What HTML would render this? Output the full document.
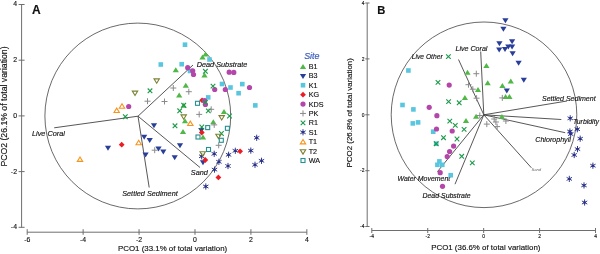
<!DOCTYPE html>
<html><head><meta charset="utf-8"><style>
html,body{margin:0;padding:0;background:#fff;}
svg{display:block;will-change:transform;}
</style></head><body>
<svg width="600" height="254" viewBox="0 0 600 254">
<path d="M21.6 4.3V227.5M18.6 4.5H24.6M18.6 60.2H24.6M18.6 115.9H24.6M18.6 171.6H24.6M18.6 227.3H24.6" stroke="#6e6e6e" stroke-width="1" fill="none"/>
<path d="M27.2 232.2H306.8M27.20 229.2V234.8M83.13 229.2V234.8M139.06 229.2V234.8M194.99 229.2V234.8M250.92 229.2V234.8M306.85 229.2V234.8" stroke="#6e6e6e" stroke-width="1" fill="none"/>
<text x="27.20" y="241.6" font-family="Liberation Sans, sans-serif" font-size="6.9" text-anchor="middle" fill="#111" stroke="#111" stroke-width="0.14">-6</text>
<text x="83.13" y="241.6" font-family="Liberation Sans, sans-serif" font-size="6.9" text-anchor="middle" fill="#111" stroke="#111" stroke-width="0.14">-4</text>
<text x="139.06" y="241.6" font-family="Liberation Sans, sans-serif" font-size="6.9" text-anchor="middle" fill="#111" stroke="#111" stroke-width="0.14">-2</text>
<text x="194.99" y="241.6" font-family="Liberation Sans, sans-serif" font-size="6.9" text-anchor="middle" fill="#111" stroke="#111" stroke-width="0.14">0</text>
<text x="250.92" y="241.6" font-family="Liberation Sans, sans-serif" font-size="6.9" text-anchor="middle" fill="#111" stroke="#111" stroke-width="0.14">2</text>
<text x="306.85" y="241.6" font-family="Liberation Sans, sans-serif" font-size="6.9" text-anchor="middle" fill="#111" stroke="#111" stroke-width="0.14">4</text>
<text x="17" y="6.20" font-family="Liberation Sans, sans-serif" font-size="6.9" text-anchor="end" fill="#111" stroke="#111" stroke-width="0.14">4</text>
<text x="17" y="62.00" font-family="Liberation Sans, sans-serif" font-size="6.9" text-anchor="end" fill="#111" stroke="#111" stroke-width="0.14">2</text>
<text x="17" y="117.80" font-family="Liberation Sans, sans-serif" font-size="6.9" text-anchor="end" fill="#111" stroke="#111" stroke-width="0.14">0</text>
<text x="17" y="173.60" font-family="Liberation Sans, sans-serif" font-size="6.9" text-anchor="end" fill="#111" stroke="#111" stroke-width="0.14">-2</text>
<text x="17" y="229.40" font-family="Liberation Sans, sans-serif" font-size="6.9" text-anchor="end" fill="#111" stroke="#111" stroke-width="0.14">-4</text>
<text x="118" y="250.8" font-family="Liberation Sans, sans-serif" font-size="7.9" fill="#111" stroke="#111" stroke-width="0.14">PCO1 (33.1% of total variation)</text>
<text transform="translate(7.2,166.6) rotate(-90) scale(1.06,1)" font-family="Liberation Sans, sans-serif" font-size="8.2" fill="#111" stroke="#111" stroke-width="0.14">PCO2 (26.1% of total variation)</text>
<text x="32" y="13.6" font-family="Liberation Sans, sans-serif" font-size="12" font-weight="bold" fill="#111" stroke="#111" stroke-width="0.14">A</text>
<circle cx="137.8" cy="116" r="92.9" fill="none" stroke="#444" stroke-width="0.8"/>
<line x1="138" y1="116.2" x2="193" y2="65" stroke="#444" stroke-width="0.9"/>
<line x1="138" y1="116.2" x2="54.2" y2="127.8" stroke="#444" stroke-width="0.9"/>
<line x1="138" y1="116.2" x2="149.2" y2="187.5" stroke="#444" stroke-width="0.9"/>
<line x1="138" y1="116.2" x2="200" y2="167.5" stroke="#444" stroke-width="0.9"/>
<text x="196.7" y="67.3" font-family="Liberation Sans, sans-serif" font-size="7.3" font-style="italic" fill="#111" stroke="#111" stroke-width="0.14">Dead Substrate</text>
<text x="32" y="135.8" font-family="Liberation Sans, sans-serif" font-size="7.3" font-style="italic" fill="#111" stroke="#111" stroke-width="0.14">Live Coral</text>
<text x="122.2" y="195.8" font-family="Liberation Sans, sans-serif" font-size="7.3" font-style="italic" fill="#111" stroke="#111" stroke-width="0.14">Settled Sediment</text>
<text x="190.8" y="175" font-family="Liberation Sans, sans-serif" font-size="7.3" font-style="italic" fill="#111" stroke="#111" stroke-width="0.14">Sand</text>
<polygon points="202.40,56.50 208.60,56.50 205.50,51.50" fill="#50b846"/>
<polygon points="199.40,59.50 205.60,59.50 202.50,54.50" fill="#50b846"/>
<polygon points="172.70,72.20 178.90,72.20 175.80,67.20" fill="#50b846"/>
<polygon points="182.70,87.80 188.90,87.80 185.80,82.80" fill="#50b846"/>
<polygon points="176.10,97.50 182.30,97.50 179.20,92.50" fill="#50b846"/>
<polygon points="201.40,77.50 207.60,77.50 204.50,72.50" fill="#50b846"/>
<polygon points="180.60,107.80 186.80,107.80 183.70,102.80" fill="#50b846"/>
<polygon points="220.90,113.90 227.10,113.90 224.00,108.90" fill="#50b846"/>
<polygon points="181.90,123.30 188.10,123.30 185.00,118.30" fill="#50b846"/>
<polygon points="179.90,134.00 186.10,134.00 183.00,129.00" fill="#50b846"/>
<polygon points="210.20,124.20 216.40,124.20 213.30,119.20" fill="#50b846"/>
<polygon points="199.90,139.50 206.10,139.50 203.00,134.50" fill="#50b846"/>
<polygon points="150.90,123.30 157.10,123.30 154.00,128.30" fill="#283e9a"/>
<polygon points="141.10,134.80 147.30,134.80 144.20,139.80" fill="#283e9a"/>
<polygon points="146.60,138.00 152.80,138.00 149.70,143.00" fill="#283e9a"/>
<polygon points="142.50,152.50 148.70,152.50 145.60,157.50" fill="#283e9a"/>
<polygon points="155.40,146.60 161.60,146.60 158.50,151.60" fill="#283e9a"/>
<polygon points="160.20,149.60 166.40,149.60 163.30,154.60" fill="#283e9a"/>
<polygon points="176.90,143.30 183.10,143.30 180.00,148.30" fill="#283e9a"/>
<polygon points="171.60,155.30 177.80,155.30 174.70,160.30" fill="#283e9a"/>
<polygon points="198.20,128.10 204.40,128.10 201.30,133.10" fill="#283e9a"/>
<polygon points="199.90,160.30 206.10,160.30 203.00,165.30" fill="#283e9a"/>
<polygon points="104.90,145.80 111.10,145.80 108.00,150.80" fill="#283e9a"/>
<rect x="182.70" y="42.40" width="4.6" height="4.6" fill="#58c6de"/>
<rect x="207.20" y="57.20" width="4.6" height="4.6" fill="#58c6de"/>
<rect x="158.50" y="62.20" width="4.6" height="4.6" fill="#58c6de"/>
<rect x="179.40" y="61.90" width="4.6" height="4.6" fill="#58c6de"/>
<rect x="187.70" y="68.70" width="4.6" height="4.6" fill="#58c6de"/>
<rect x="219.70" y="81.70" width="4.6" height="4.6" fill="#58c6de"/>
<rect x="228.20" y="85.20" width="4.6" height="4.6" fill="#58c6de"/>
<rect x="240.00" y="81.80" width="4.6" height="4.6" fill="#58c6de"/>
<rect x="236.30" y="90.90" width="4.6" height="4.6" fill="#58c6de"/>
<rect x="253.00" y="103.10" width="4.6" height="4.6" fill="#58c6de"/>
<rect x="205.90" y="95.10" width="4.6" height="4.6" fill="#58c6de"/>
<polygon points="202.10,97.40 205.00,100.30 202.10,103.20 199.20,100.30" fill="#ec1c24"/>
<polygon points="201.80,129.60 204.70,132.50 201.80,135.40 198.90,132.50" fill="#ec1c24"/>
<polygon points="205.30,157.10 208.20,160.00 205.30,162.90 202.40,160.00" fill="#ec1c24"/>
<polygon points="240.10,148.40 243.00,151.30 240.10,154.20 237.20,151.30" fill="#ec1c24"/>
<polygon points="218.40,174.50 221.30,177.40 218.40,180.30 215.50,177.40" fill="#ec1c24"/>
<polygon points="121.70,141.80 124.60,144.70 121.70,147.60 118.80,144.70" fill="#ec1c24"/>
<circle cx="187.70" cy="67.70" r="2.6" fill="#b446aa"/>
<circle cx="192.70" cy="70.80" r="2.6" fill="#b446aa"/>
<circle cx="193.50" cy="74.50" r="2.6" fill="#b446aa"/>
<circle cx="229.20" cy="72.20" r="2.6" fill="#b446aa"/>
<circle cx="233.80" cy="72.40" r="2.6" fill="#b446aa"/>
<circle cx="249.50" cy="87.50" r="2.6" fill="#b446aa"/>
<circle cx="214.70" cy="89.50" r="2.6" fill="#b446aa"/>
<circle cx="225.30" cy="89.50" r="2.6" fill="#b446aa"/>
<circle cx="204.60" cy="100.70" r="2.6" fill="#b446aa"/>
<circle cx="205.40" cy="104.50" r="2.6" fill="#b446aa"/>
<circle cx="128.70" cy="106.50" r="2.6" fill="#b446aa"/>
<path d="M170.30 88.00H176.30M173.30 85.00V91.00" stroke="#8a8a8a" stroke-width="1" fill="none"/>
<path d="M185.80 91.70H191.80M188.80 88.70V94.70" stroke="#8a8a8a" stroke-width="1" fill="none"/>
<path d="M144.50 101.20H150.50M147.50 98.20V104.20" stroke="#8a8a8a" stroke-width="1" fill="none"/>
<path d="M161.50 101.50H167.50M164.50 98.50V104.50" stroke="#8a8a8a" stroke-width="1" fill="none"/>
<path d="M208.20 109.30H214.20M211.20 106.30V112.30" stroke="#8a8a8a" stroke-width="1" fill="none"/>
<path d="M196.20 114.40H202.20M199.20 111.40V117.40" stroke="#8a8a8a" stroke-width="1" fill="none"/>
<path d="M211.20 124.90H217.20M214.20 121.90V127.90" stroke="#8a8a8a" stroke-width="1" fill="none"/>
<path d="M215.70 145.30H221.70M218.70 142.30V148.30" stroke="#8a8a8a" stroke-width="1" fill="none"/>
<path d="M151.70 150.20H157.70M154.70 147.20V153.20" stroke="#8a8a8a" stroke-width="1" fill="none"/>
<path d="M203.10 69.00L207.70 73.60M203.10 73.60L207.70 69.00" stroke="#1a9a48" stroke-width="1.1" fill="none"/>
<path d="M210.70 83.80L215.30 88.40M210.70 88.40L215.30 83.80" stroke="#1a9a48" stroke-width="1.1" fill="none"/>
<path d="M147.70 88.50L152.30 93.10M147.70 93.10L152.30 88.50" stroke="#1a9a48" stroke-width="1.1" fill="none"/>
<path d="M203.10 100.10L207.70 104.70M203.10 104.70L207.70 100.10" stroke="#1a9a48" stroke-width="1.1" fill="none"/>
<path d="M206.00 108.60L210.60 113.20M206.00 113.20L210.60 108.60" stroke="#1a9a48" stroke-width="1.1" fill="none"/>
<path d="M181.40 103.00L186.00 107.60M181.40 107.60L186.00 103.00" stroke="#1a9a48" stroke-width="1.1" fill="none"/>
<path d="M177.40 108.50L182.00 113.10M177.40 113.10L182.00 108.50" stroke="#1a9a48" stroke-width="1.1" fill="none"/>
<path d="M227.20 113.70L231.80 118.30M227.20 118.30L231.80 113.70" stroke="#1a9a48" stroke-width="1.1" fill="none"/>
<path d="M123.00 114.40L127.60 119.00M123.00 119.00L127.60 114.40" stroke="#1a9a48" stroke-width="1.1" fill="none"/>
<path d="M172.70 123.50L177.30 128.10M172.70 128.10L177.30 123.50" stroke="#1a9a48" stroke-width="1.1" fill="none"/>
<path d="M199.50 124.70L204.10 129.30M199.50 129.30L204.10 124.70" stroke="#1a9a48" stroke-width="1.1" fill="none"/>
<path d="M219.10 131.20L223.70 135.80M219.10 135.80L223.70 131.20" stroke="#1a9a48" stroke-width="1.1" fill="none"/>
<path d="M201.70 153.20L201.70 159.40M199.02 154.75L204.38 157.85M199.02 157.85L204.38 154.75" stroke="#272f86" stroke-width="0.95" fill="none"/><circle cx="201.70" cy="156.30" r="1.2" fill="#272f86"/>
<path d="M214.20 150.70L214.20 156.90M211.52 152.25L216.88 155.35M211.52 155.35L216.88 152.25" stroke="#272f86" stroke-width="0.95" fill="none"/><circle cx="214.20" cy="153.80" r="1.2" fill="#272f86"/>
<path d="M228.60 151.70L228.60 157.90M225.92 153.25L231.28 156.35M225.92 156.35L231.28 153.25" stroke="#272f86" stroke-width="0.95" fill="none"/><circle cx="228.60" cy="154.80" r="1.2" fill="#272f86"/>
<path d="M235.30 147.70L235.30 153.90M232.62 149.25L237.98 152.35M232.62 152.35L237.98 149.25" stroke="#272f86" stroke-width="0.95" fill="none"/><circle cx="235.30" cy="150.80" r="1.2" fill="#272f86"/>
<path d="M250.80 147.50L250.80 153.70M248.12 149.05L253.48 152.15M248.12 152.15L253.48 149.05" stroke="#272f86" stroke-width="0.95" fill="none"/><circle cx="250.80" cy="150.60" r="1.2" fill="#272f86"/>
<path d="M256.70 134.70L256.70 140.90M254.02 136.25L259.38 139.35M254.02 139.35L259.38 136.25" stroke="#272f86" stroke-width="0.95" fill="none"/><circle cx="256.70" cy="137.80" r="1.2" fill="#272f86"/>
<path d="M218.90 158.70L218.90 164.90M216.22 160.25L221.58 163.35M216.22 163.35L221.58 160.25" stroke="#272f86" stroke-width="0.95" fill="none"/><circle cx="218.90" cy="161.80" r="1.2" fill="#272f86"/>
<path d="M228.00 162.90L228.00 169.10M225.32 164.45L230.68 167.55M225.32 167.55L230.68 164.45" stroke="#272f86" stroke-width="0.95" fill="none"/><circle cx="228.00" cy="166.00" r="1.2" fill="#272f86"/>
<path d="M214.50 166.50L214.50 172.70M211.82 168.05L217.18 171.15M211.82 171.15L217.18 168.05" stroke="#272f86" stroke-width="0.95" fill="none"/><circle cx="214.50" cy="169.60" r="1.2" fill="#272f86"/>
<path d="M255.00 161.70L255.00 167.90M252.32 163.25L257.68 166.35M252.32 166.35L257.68 163.25" stroke="#272f86" stroke-width="0.95" fill="none"/><circle cx="255.00" cy="164.80" r="1.2" fill="#272f86"/>
<path d="M261.50 157.70L261.50 163.90M258.82 159.25L264.18 162.35M258.82 162.35L264.18 159.25" stroke="#272f86" stroke-width="0.95" fill="none"/><circle cx="261.50" cy="160.80" r="1.2" fill="#272f86"/>
<path d="M205.80 183.40L205.80 189.60M203.12 184.95L208.48 188.05M203.12 188.05L208.48 184.95" stroke="#272f86" stroke-width="0.95" fill="none"/><circle cx="205.80" cy="186.50" r="1.2" fill="#272f86"/>
<polygon points="119.30,108.20 124.70,108.20 122.00,103.80" fill="none" stroke="#f7941d" stroke-width="1.1"/>
<polygon points="114.00,112.50 119.40,112.50 116.70,108.10" fill="none" stroke="#f7941d" stroke-width="1.1"/>
<polygon points="187.60,125.50 193.00,125.50 190.30,121.10" fill="none" stroke="#f7941d" stroke-width="1.1"/>
<polygon points="77.30,161.40 82.70,161.40 80.00,157.00" fill="none" stroke="#f7941d" stroke-width="1.1"/>
<polygon points="136.00,144.70 141.40,144.70 138.70,140.30" fill="none" stroke="#f7941d" stroke-width="1.1"/>
<polygon points="154.00,78.90 159.40,78.90 156.70,83.30" fill="none" stroke="#7c8235" stroke-width="1.1"/>
<polygon points="132.30,91.10 137.70,91.10 135.00,95.50" fill="none" stroke="#7c8235" stroke-width="1.1"/>
<polygon points="219.00,115.60 224.40,115.60 221.70,120.00" fill="none" stroke="#7c8235" stroke-width="1.1"/>
<polygon points="181.00,114.90 186.40,114.90 183.70,119.30" fill="none" stroke="#7c8235" stroke-width="1.1"/>
<polygon points="215.80,134.20 221.20,134.20 218.50,138.60" fill="none" stroke="#7c8235" stroke-width="1.1"/>
<polygon points="200.00,151.70 205.40,151.70 202.70,156.10" fill="none" stroke="#7c8235" stroke-width="1.1"/>
<rect x="195.50" y="101.30" width="4.0" height="4.0" fill="none" stroke="#25908f" stroke-width="1.1"/>
<rect x="205.70" y="125.60" width="4.0" height="4.0" fill="none" stroke="#25908f" stroke-width="1.1"/>
<rect x="225.40" y="126.30" width="4.0" height="4.0" fill="none" stroke="#25908f" stroke-width="1.1"/>
<rect x="196.00" y="135.00" width="4.0" height="4.0" fill="none" stroke="#25908f" stroke-width="1.1"/>
<rect x="219.30" y="138.30" width="4.0" height="4.0" fill="none" stroke="#25908f" stroke-width="1.1"/>
<rect x="206.50" y="147.50" width="4.0" height="4.0" fill="none" stroke="#25908f" stroke-width="1.1"/>
<text x="304.2" y="59.1" font-family="Liberation Sans, sans-serif" font-size="8.9" font-style="italic" fill="#3b5cb8" stroke="#3b5cb8" stroke-width="0.2">Site</text>
<polygon points="299.90,68.90 306.10,68.90 303.00,63.90" fill="#50b846"/>
<text x="308.7" y="69.00" font-family="Liberation Sans, sans-serif" font-size="7.2" fill="#111" stroke="#111" stroke-width="0.14">B1</text>
<polygon points="299.90,74.11 306.10,74.11 303.00,79.11" fill="#283e9a"/>
<text x="308.7" y="78.41" font-family="Liberation Sans, sans-serif" font-size="7.2" fill="#111" stroke="#111" stroke-width="0.14">B3</text>
<rect x="300.70" y="82.92" width="4.6" height="4.6" fill="#58c6de"/>
<text x="308.7" y="87.82" font-family="Liberation Sans, sans-serif" font-size="7.2" fill="#111" stroke="#111" stroke-width="0.14">K1</text>
<polygon points="303.00,91.73 305.90,94.63 303.00,97.53 300.10,94.63" fill="#ec1c24"/>
<text x="308.7" y="97.23" font-family="Liberation Sans, sans-serif" font-size="7.2" fill="#111" stroke="#111" stroke-width="0.14">KG</text>
<circle cx="303.00" cy="104.04" r="2.6" fill="#b446aa"/>
<text x="308.7" y="106.64" font-family="Liberation Sans, sans-serif" font-size="7.2" fill="#111" stroke="#111" stroke-width="0.14">KDS</text>
<path d="M300.00 113.45H306.00M303.00 110.45V116.45" stroke="#8a8a8a" stroke-width="1" fill="none"/>
<text x="308.7" y="116.05" font-family="Liberation Sans, sans-serif" font-size="7.2" fill="#111" stroke="#111" stroke-width="0.14">PK</text>
<path d="M300.70 120.56L305.30 125.16M300.70 125.16L305.30 120.56" stroke="#1a9a48" stroke-width="1.1" fill="none"/>
<text x="308.7" y="125.46" font-family="Liberation Sans, sans-serif" font-size="7.2" fill="#111" stroke="#111" stroke-width="0.14">R1</text>
<path d="M303.00 129.17L303.00 135.37M300.32 130.72L305.68 133.82M300.32 133.82L305.68 130.72" stroke="#272f86" stroke-width="0.95" fill="none"/><circle cx="303.00" cy="132.27" r="1.2" fill="#272f86"/>
<text x="308.7" y="134.87" font-family="Liberation Sans, sans-serif" font-size="7.2" fill="#111" stroke="#111" stroke-width="0.14">S1</text>
<polygon points="300.30,143.88 305.70,143.88 303.00,139.48" fill="none" stroke="#f7941d" stroke-width="1.1"/>
<text x="308.7" y="144.28" font-family="Liberation Sans, sans-serif" font-size="7.2" fill="#111" stroke="#111" stroke-width="0.14">T1</text>
<polygon points="300.30,149.69 305.70,149.69 303.00,154.09" fill="none" stroke="#7c8235" stroke-width="1.1"/>
<text x="308.7" y="153.69" font-family="Liberation Sans, sans-serif" font-size="7.2" fill="#111" stroke="#111" stroke-width="0.14">T2</text>
<rect x="301.00" y="158.50" width="4.0" height="4.0" fill="none" stroke="#25908f" stroke-width="1.1"/>
<text x="308.7" y="163.10" font-family="Liberation Sans, sans-serif" font-size="7.2" fill="#111" stroke="#111" stroke-width="0.14">WA</text>
<path d="M367.2 3V226.5M365.3 3H369.5M365.3 58.9H369.5M365.3 114.8H369.5M365.3 170.7H369.5M365.3 226.5H369.5" stroke="#6e6e6e" stroke-width="1" fill="none"/>
<path d="M371.8 230.5H595.5M371.80 228V233M427.73 228V233M483.66 228V233M539.59 228V233M595.52 228V233" stroke="#6e6e6e" stroke-width="1" fill="none"/>
<text x="371.80" y="238" font-family="Liberation Sans, sans-serif" font-size="4.9" text-anchor="middle" fill="#111" stroke="#111" stroke-width="0.14">-4</text>
<text x="427.73" y="238" font-family="Liberation Sans, sans-serif" font-size="4.9" text-anchor="middle" fill="#111" stroke="#111" stroke-width="0.14">-2</text>
<text x="483.66" y="238" font-family="Liberation Sans, sans-serif" font-size="4.9" text-anchor="middle" fill="#111" stroke="#111" stroke-width="0.14">0</text>
<text x="539.59" y="238" font-family="Liberation Sans, sans-serif" font-size="4.9" text-anchor="middle" fill="#111" stroke="#111" stroke-width="0.14">2</text>
<text x="595.52" y="238" font-family="Liberation Sans, sans-serif" font-size="4.9" text-anchor="middle" fill="#111" stroke="#111" stroke-width="0.14">4</text>
<text x="364.4" y="4.80" font-family="Liberation Sans, sans-serif" font-size="4.9" text-anchor="end" fill="#111" stroke="#111" stroke-width="0.14">4</text>
<text x="364.4" y="60.68" font-family="Liberation Sans, sans-serif" font-size="4.9" text-anchor="end" fill="#111" stroke="#111" stroke-width="0.14">2</text>
<text x="364.4" y="116.56" font-family="Liberation Sans, sans-serif" font-size="4.9" text-anchor="end" fill="#111" stroke="#111" stroke-width="0.14">0</text>
<text x="364.4" y="172.44" font-family="Liberation Sans, sans-serif" font-size="4.9" text-anchor="end" fill="#111" stroke="#111" stroke-width="0.14">-2</text>
<text x="364.4" y="228.32" font-family="Liberation Sans, sans-serif" font-size="4.9" text-anchor="end" fill="#111" stroke="#111" stroke-width="0.14">-4</text>
<text x="431.2" y="249.9" font-family="Liberation Sans, sans-serif" font-size="7.9" fill="#111" stroke="#111" stroke-width="0.14">PCO1 (36.6% of total variation)</text>
<text transform="translate(352.2,167.4) rotate(-90)" font-family="Liberation Sans, sans-serif" font-size="7.9" fill="#111" stroke="#111" stroke-width="0.14">PCO2 (26.8% of total variation)</text>
<text x="377.3" y="13.7" font-family="Liberation Sans, sans-serif" font-size="11.2" font-weight="bold" fill="#111" stroke="#111" stroke-width="0.14">B</text>
<circle cx="484" cy="114.8" r="92.8" fill="none" stroke="#444" stroke-width="0.8"/>
<line x1="483.8" y1="114.8" x2="480.7" y2="51.5" stroke="#444" stroke-width="0.9"/>
<line x1="483.8" y1="114.8" x2="458.5" y2="59.5" stroke="#444" stroke-width="0.9"/>
<line x1="483.8" y1="114.8" x2="567" y2="101" stroke="#444" stroke-width="0.9"/>
<line x1="483.8" y1="114.8" x2="561.3" y2="119.5" stroke="#444" stroke-width="0.9"/>
<line x1="483.8" y1="114.8" x2="565.2" y2="132.7" stroke="#444" stroke-width="0.9"/>
<line x1="483.8" y1="114.8" x2="531.4" y2="167.8" stroke="#444" stroke-width="0.9"/>
<line x1="483.8" y1="114.8" x2="455" y2="184.2" stroke="#444" stroke-width="0.9"/>
<line x1="483.8" y1="114.8" x2="437.4" y2="171.7" stroke="#444" stroke-width="0.9"/>
<text x="455.5" y="51.2" font-family="Liberation Sans, sans-serif" font-size="7.1" font-style="italic" fill="#111" stroke="#111" stroke-width="0.14">Live Coral</text>
<text x="411.8" y="59.4" font-family="Liberation Sans, sans-serif" font-size="6.7" font-style="italic" fill="#111" stroke="#111" stroke-width="0.14">Live Other</text>
<text x="542" y="100.6" font-family="Liberation Sans, sans-serif" font-size="7.05" font-style="italic" fill="#111" stroke="#111" stroke-width="0.14">Settled Sediment</text>
<text x="573.1" y="123.5" font-family="Liberation Sans, sans-serif" font-size="6.9" font-style="italic" fill="#111" stroke="#111" stroke-width="0.14">Turbidity</text>
<text x="535.3" y="141.9" font-family="Liberation Sans, sans-serif" font-size="7.1" font-style="italic" fill="#111" stroke="#111" stroke-width="0.14">Chlorophyll</text>
<text x="397.5" y="180.8" font-family="Liberation Sans, sans-serif" font-size="6.95" font-style="italic" fill="#111" stroke="#111" stroke-width="0.14">Water Movement</text>
<text x="422.5" y="198" font-family="Liberation Sans, sans-serif" font-size="6.95" font-style="italic" fill="#111" stroke="#111" stroke-width="0.14">Dead Substrate</text>
<text x="531.4" y="170.5" font-family="Liberation Sans, sans-serif" font-size="4.2" font-style="italic" fill="#666">Sand</text>
<polygon points="483.30,67.90 489.50,67.90 486.40,62.90" fill="#50b846"/>
<polygon points="464.40,74.70 470.60,74.70 467.50,69.70" fill="#50b846"/>
<polygon points="484.60,85.20 490.80,85.20 487.70,80.20" fill="#50b846"/>
<polygon points="507.70,83.60 513.90,83.60 510.80,78.60" fill="#50b846"/>
<polygon points="499.30,87.90 505.50,87.90 502.40,82.90" fill="#50b846"/>
<polygon points="474.90,91.90 481.10,91.90 478.00,86.90" fill="#50b846"/>
<polygon points="461.80,99.90 468.00,99.90 464.90,94.90" fill="#50b846"/>
<polygon points="502.50,99.10 508.70,99.10 505.60,94.10" fill="#50b846"/>
<polygon points="506.30,98.90 512.50,98.90 509.40,93.90" fill="#50b846"/>
<polygon points="473.00,118.80 479.20,118.80 476.10,113.80" fill="#50b846"/>
<polygon points="498.80,119.00 505.00,119.00 501.90,114.00" fill="#50b846"/>
<polygon points="462.90,123.10 469.10,123.10 466.00,118.10" fill="#50b846"/>
<polygon points="502.30,18.30 508.50,18.30 505.40,23.30" fill="#283e9a"/>
<polygon points="500.30,26.70 506.50,26.70 503.40,31.70" fill="#283e9a"/>
<polygon points="496.30,41.30 502.50,41.30 499.40,46.30" fill="#283e9a"/>
<polygon points="509.00,39.30 515.20,39.30 512.10,44.30" fill="#283e9a"/>
<polygon points="496.10,47.60 502.30,47.60 499.20,52.60" fill="#283e9a"/>
<polygon points="501.90,46.90 508.10,46.90 505.00,51.90" fill="#283e9a"/>
<polygon points="505.20,44.50 511.40,44.50 508.30,49.50" fill="#283e9a"/>
<polygon points="509.00,44.60 515.20,44.60 512.10,49.60" fill="#283e9a"/>
<polygon points="509.50,51.30 515.70,51.30 512.60,56.30" fill="#283e9a"/>
<polygon points="515.50,60.70 521.70,60.70 518.60,65.70" fill="#283e9a"/>
<polygon points="520.70,77.70 526.90,77.70 523.80,82.70" fill="#283e9a"/>
<polygon points="503.70,88.40 509.90,88.40 506.80,93.40" fill="#283e9a"/>
<rect x="406.10" y="68.20" width="4.6" height="4.6" fill="#58c6de"/>
<rect x="400.20" y="102.70" width="4.6" height="4.6" fill="#58c6de"/>
<rect x="411.10" y="107.10" width="4.6" height="4.6" fill="#58c6de"/>
<rect x="410.50" y="121.10" width="4.6" height="4.6" fill="#58c6de"/>
<rect x="415.80" y="120.10" width="4.6" height="4.6" fill="#58c6de"/>
<rect x="430.90" y="129.40" width="4.6" height="4.6" fill="#58c6de"/>
<rect x="433.90" y="141.40" width="4.6" height="4.6" fill="#58c6de"/>
<rect x="437.10" y="159.10" width="4.6" height="4.6" fill="#58c6de"/>
<rect x="435.10" y="162.50" width="4.6" height="4.6" fill="#58c6de"/>
<rect x="440.00" y="162.50" width="4.6" height="4.6" fill="#58c6de"/>
<rect x="448.40" y="172.90" width="4.6" height="4.6" fill="#58c6de"/>
<circle cx="449.20" cy="85.10" r="2.6" fill="#b446aa"/>
<circle cx="429.20" cy="107.30" r="2.6" fill="#b446aa"/>
<circle cx="436.90" cy="115.70" r="2.6" fill="#b446aa"/>
<circle cx="436.50" cy="129.00" r="2.6" fill="#b446aa"/>
<circle cx="452.20" cy="131.00" r="2.6" fill="#b446aa"/>
<circle cx="453.60" cy="146.10" r="2.6" fill="#b446aa"/>
<circle cx="449.60" cy="151.50" r="2.6" fill="#b446aa"/>
<circle cx="447.20" cy="156.60" r="2.6" fill="#b446aa"/>
<circle cx="440.20" cy="172.70" r="2.6" fill="#b446aa"/>
<circle cx="442.50" cy="186.30" r="2.6" fill="#b446aa"/>
<path d="M473.30 73.70H479.30M476.30 70.70V76.70" stroke="#8a8a8a" stroke-width="1" fill="none"/>
<path d="M465.50 84.70H471.50M468.50 81.70V87.70" stroke="#8a8a8a" stroke-width="1" fill="none"/>
<path d="M469.80 89.20H475.80M472.80 86.20V92.20" stroke="#8a8a8a" stroke-width="1" fill="none"/>
<path d="M473.60 98.20H479.60M476.60 95.20V101.20" stroke="#8a8a8a" stroke-width="1" fill="none"/>
<path d="M499.30 97.90H505.30M502.30 94.90V100.90" stroke="#8a8a8a" stroke-width="1" fill="none"/>
<path d="M476.80 115.50H482.80M479.80 112.50V118.50" stroke="#8a8a8a" stroke-width="1" fill="none"/>
<path d="M491.20 119.00H497.20M494.20 116.00V122.00" stroke="#8a8a8a" stroke-width="1" fill="none"/>
<path d="M492.90 122.00H498.90M495.90 119.00V125.00" stroke="#8a8a8a" stroke-width="1" fill="none"/>
<path d="M494.10 126.60H500.10M497.10 123.60V129.60" stroke="#8a8a8a" stroke-width="1" fill="none"/>
<path d="M502.90 121.00H508.90M505.90 118.00V124.00" stroke="#8a8a8a" stroke-width="1" fill="none"/>
<path d="M483.80 124.10H489.80M486.80 121.10V127.10" stroke="#8a8a8a" stroke-width="1" fill="none"/>
<path d="M446.10 54.30L450.70 58.90M446.10 58.90L450.70 54.30" stroke="#1a9a48" stroke-width="1.1" fill="none"/>
<path d="M435.70 80.10L440.30 84.70M435.70 84.70L440.30 80.10" stroke="#1a9a48" stroke-width="1.1" fill="none"/>
<path d="M446.30 99.30L450.90 103.90M446.30 103.90L450.90 99.30" stroke="#1a9a48" stroke-width="1.1" fill="none"/>
<path d="M456.90 100.50L461.50 105.10M456.90 105.10L461.50 100.50" stroke="#1a9a48" stroke-width="1.1" fill="none"/>
<path d="M447.50 118.80L452.10 123.40M447.50 123.40L452.10 118.80" stroke="#1a9a48" stroke-width="1.1" fill="none"/>
<path d="M453.00 123.10L457.60 127.70M453.00 127.70L457.60 123.10" stroke="#1a9a48" stroke-width="1.1" fill="none"/>
<path d="M461.80 127.10L466.40 131.70M461.80 131.70L466.40 127.10" stroke="#1a9a48" stroke-width="1.1" fill="none"/>
<path d="M441.20 135.40L445.80 140.00M441.20 140.00L445.80 135.40" stroke="#1a9a48" stroke-width="1.1" fill="none"/>
<path d="M454.70 136.70L459.30 141.30M454.70 141.30L459.30 136.70" stroke="#1a9a48" stroke-width="1.1" fill="none"/>
<path d="M433.90 141.40L438.50 146.00M433.90 146.00L438.50 141.40" stroke="#1a9a48" stroke-width="1.1" fill="none"/>
<path d="M459.40 154.00L464.00 158.60M459.40 158.60L464.00 154.00" stroke="#1a9a48" stroke-width="1.1" fill="none"/>
<path d="M470.00 160.60L474.60 165.20M470.00 165.20L474.60 160.60" stroke="#1a9a48" stroke-width="1.1" fill="none"/>
<path d="M570.20 115.20L570.20 121.40M567.52 116.75L572.88 119.85M567.52 119.85L572.88 116.75" stroke="#272f86" stroke-width="0.95" fill="none"/><circle cx="570.20" cy="118.30" r="1.2" fill="#272f86"/>
<path d="M569.90 128.40L569.90 134.60M567.22 129.95L572.58 133.05M567.22 133.05L572.58 129.95" stroke="#272f86" stroke-width="0.95" fill="none"/><circle cx="569.90" cy="131.50" r="1.2" fill="#272f86"/>
<path d="M570.70 131.00L570.70 137.20M568.02 132.55L573.38 135.65M568.02 135.65L573.38 132.55" stroke="#272f86" stroke-width="0.95" fill="none"/><circle cx="570.70" cy="134.10" r="1.2" fill="#272f86"/>
<path d="M577.30 126.10L577.30 132.30M574.62 127.65L579.98 130.75M574.62 130.75L579.98 127.65" stroke="#272f86" stroke-width="0.95" fill="none"/><circle cx="577.30" cy="129.20" r="1.2" fill="#272f86"/>
<path d="M580.20 135.60L580.20 141.80M577.52 137.15L582.88 140.25M577.52 140.25L582.88 137.15" stroke="#272f86" stroke-width="0.95" fill="none"/><circle cx="580.20" cy="138.70" r="1.2" fill="#272f86"/>
<path d="M577.50 146.00L577.50 152.20M574.82 147.55L580.18 150.65M574.82 150.65L580.18 147.55" stroke="#272f86" stroke-width="0.95" fill="none"/><circle cx="577.50" cy="149.10" r="1.2" fill="#272f86"/>
<path d="M574.20 151.90L574.20 158.10M571.52 153.45L576.88 156.55M571.52 156.55L576.88 153.45" stroke="#272f86" stroke-width="0.95" fill="none"/><circle cx="574.20" cy="155.00" r="1.2" fill="#272f86"/>
<path d="M592.90 162.60L592.90 168.80M590.22 164.15L595.58 167.25M590.22 167.25L595.58 164.15" stroke="#272f86" stroke-width="0.95" fill="none"/><circle cx="592.90" cy="165.70" r="1.2" fill="#272f86"/>
<path d="M569.30 175.80L569.30 182.00M566.62 177.35L571.98 180.45M566.62 180.45L571.98 177.35" stroke="#272f86" stroke-width="0.95" fill="none"/><circle cx="569.30" cy="178.90" r="1.2" fill="#272f86"/>
<path d="M584.00 182.30L584.00 188.50M581.32 183.85L586.68 186.95M581.32 186.95L586.68 183.85" stroke="#272f86" stroke-width="0.95" fill="none"/><circle cx="584.00" cy="185.40" r="1.2" fill="#272f86"/>
<path d="M584.60 199.40L584.60 205.60M581.92 200.95L587.28 204.05M581.92 204.05L587.28 200.95" stroke="#272f86" stroke-width="0.95" fill="none"/><circle cx="584.60" cy="202.50" r="1.2" fill="#272f86"/>
</svg>
</body></html>
